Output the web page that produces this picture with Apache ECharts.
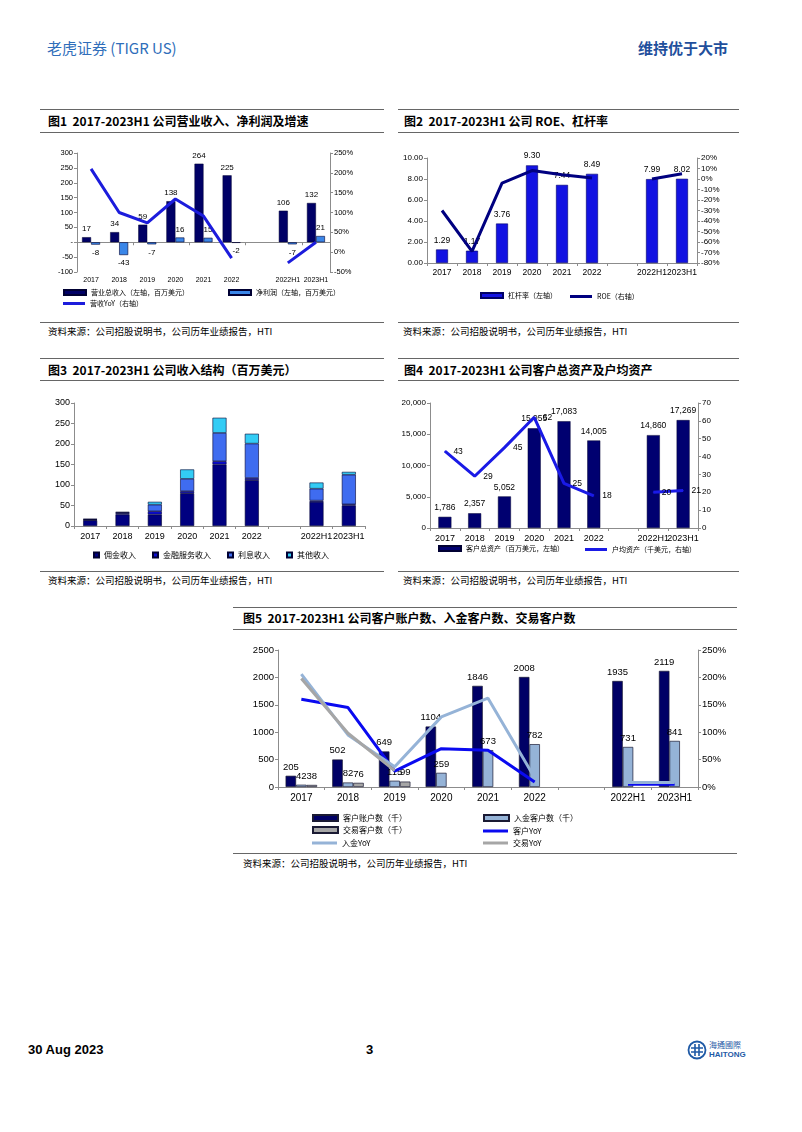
<!DOCTYPE html>
<html><head><meta charset="utf-8">
<script src="https://cdn.jsdelivr.net/npm/echarts@6/dist/echarts.min.js"></script>
<style>
body{margin:0;background:#fff;width:802px;height:1132px;position:relative;overflow:hidden;font-family:'Liberation Sans','Noto Sans CJK SC',sans-serif;}
.hl{position:absolute;height:0;border-top:1px solid #666;}
.title{position:absolute;font-family:'Noto Sans CJK SC',sans-serif;font-weight:bold;font-size:12px;line-height:14px;color:#000;white-space:nowrap}
.src{position:absolute;font-family:'Noto Sans CJK SC',sans-serif;font-size:9.5px;line-height:12px;color:#000;white-space:nowrap}
.ch{position:absolute;}
</style></head>
<body>
<div style="position:absolute;left:47px;top:38px;font-family:'Noto Sans CJK SC',sans-serif;font-size:15px;line-height:20px;color:#2f6eba;white-space:nowrap">老虎证券 (TIGR US)</div>
<div style="position:absolute;left:638px;top:38px;font-family:'Noto Sans CJK SC',sans-serif;font-weight:bold;font-size:15px;line-height:20px;color:#1f4f9c;white-space:nowrap">维持优于大市</div>

<div class="hl" style="left:40px;width:344px;top:109px"></div>
<div class="hl" style="left:40px;width:344px;top:132px"></div>
<div class="hl" style="left:40px;width:344px;top:322px"></div>
<div class="title" style="left:48px;top:114px">图1&nbsp; 2017-2023H1 公司营业收入、净利润及增速</div>
<div class="src" style="left:48px;top:325px">资料来源：公司招股说明书，公司历年业绩报告，HTI</div>

<div class="hl" style="left:398px;width:341px;top:109px"></div>
<div class="hl" style="left:398px;width:341px;top:132px"></div>
<div class="hl" style="left:398px;width:341px;top:322px"></div>
<div class="title" style="left:404px;top:114px">图2&nbsp; 2017-2023H1 公司 ROE、杠杆率</div>
<div class="src" style="left:403px;top:325px">资料来源：公司招股说明书，公司历年业绩报告，HTI</div>

<div class="hl" style="left:40px;width:344px;top:358px"></div>
<div class="hl" style="left:40px;width:344px;top:380px"></div>
<div class="hl" style="left:40px;width:344px;top:571px"></div>
<div class="title" style="left:48px;top:363px">图3&nbsp; 2017-2023H1 公司收入结构（百万美元）</div>
<div class="src" style="left:48px;top:574px">资料来源：公司招股说明书，公司历年业绩报告，HTI</div>

<div class="hl" style="left:398px;width:341px;top:358px"></div>
<div class="hl" style="left:398px;width:341px;top:380px"></div>
<div class="hl" style="left:398px;width:341px;top:571px"></div>
<div class="title" style="left:404px;top:363px">图4&nbsp; 2017-2023H1 公司客户总资产及户均资产</div>
<div class="src" style="left:403px;top:574px">资料来源：公司招股说明书，公司历年业绩报告，HTI</div>

<div class="hl" style="left:233px;width:504px;top:607px"></div>
<div class="hl" style="left:233px;width:504px;top:629px"></div>
<div class="hl" style="left:233px;width:504px;top:853px"></div>
<div class="title" style="left:243px;top:611px">图5&nbsp; 2017-2023H1 公司客户账户数、入金客户数、交易客户数</div>
<div class="src" style="left:243px;top:857px">资料来源：公司招股说明书，公司历年业绩报告，HTI</div>

<div id="c1" class="ch" style="left:40px;top:135px;width:345px;height:185px"></div>
<div id="c2" class="ch" style="left:395px;top:135px;width:345px;height:185px"></div>
<div id="c3" class="ch" style="left:40px;top:390px;width:345px;height:178px"></div>
<div id="c4" class="ch" style="left:395px;top:390px;width:345px;height:178px"></div>
<div id="c5" class="ch" style="left:233px;top:635px;width:505px;height:215px"></div>

<div style="position:absolute;left:28px;top:1042px;font-family:'Liberation Sans',sans-serif;font-weight:bold;font-size:13px;line-height:16px;color:#000">30 Aug 2023</div>
<div style="position:absolute;left:366px;top:1042px;font-family:'Liberation Sans',sans-serif;font-weight:bold;font-size:13px;line-height:16px;color:#000">3</div>
<svg style="position:absolute;left:687px;top:1040px" width="20" height="20" viewBox="0 0 20 20">
  <circle cx="10" cy="10" r="8.5" fill="none" stroke="#1f5aa6" stroke-width="1.8"/>
  <path d="M4 8 H16 M4 12 H16 M8 4 V16 M12 4 V16" stroke="#1f5aa6" stroke-width="1.6" fill="none"/>
</svg>
<div style="position:absolute;left:709px;top:1040px;font-family:'Noto Sans CJK TC',sans-serif;font-size:8px;line-height:9px;color:#1f5aa6;white-space:nowrap">海通國際</div>
<div style="position:absolute;left:709px;top:1050px;font-family:'Liberation Sans',sans-serif;font-weight:bold;font-size:8px;line-height:9px;color:#1f5aa6;white-space:nowrap">HAITONG</div>

<script>
// ---------- DATA ----------
const categories = ['2017','2018','2019','2020','2021','2022','','2022H1','2023H1'];
// Fig 1
const revenue = [17, 34, 59, 138, 264, 225, null, 106, 132];
const netProfit = [-8, -43, -7, 16, 15, -2, null, -7, 21];
const revenueYoY = [210, 100, 74, 134, 91, -15, null, -27, 25];
// Fig 2
const leverage = [1.29, 1.17, 3.76, 9.30, 7.44, 8.49, null, 7.99, 8.02];
const roe = [-30, -69, -4, 8, 4, 1, null, 0, 5];
// Fig 3
const commission = [14, 28, 28, 80, 150, 112, null, 59, 50];
const finService = [1, 3, 8, 5, 8, 5, null, 3, 3];
const interest = [1.5, 2, 16, 30, 69, 84, null, 29, 72];
const otherIncome = [0.5, 1, 7, 23, 37, 24, null, 15, 7];
// Fig 4
const clientAssets = [1786, 2357, 5052, 15955, 17083, 14005, null, 14860, 17269];
const assetPerAccount = [43, 29, 45, 62, 25, 18, null, 20, 21];
// Fig 5
const accounts = [205, 502, 649, 1104, 1846, 2008, null, 1935, 2119];
const funded = [42, 82, 115, 259, 673, 782, null, 731, 841];
const trading = [38, 76, 99, null, null, null, null, null, null];
const accountsYoY = [160, 145, 29, 70, 67, 9, null, 5, 5];
const fundedYoY = [206, 95, 37, 128, 162, 17, null, 8, 8];
const tradingYoY = [198, 98, 30, null, null, null, null, null, null];

// ---------- HELPERS ----------
const LAT = "'Liberation Sans','Noto Sans CJK SC',sans-serif";
const CJK = "'Noto Sans CJK SC',sans-serif";
const AX = '#8c8c8c';
function lg(name, left, top, fs, icon, lineColor) {
  const o = {data:[name], left:left, top:top, itemWidth:22, itemHeight:5, itemGap:0, padding:0,
    selectedMode:false, textStyle:{fontSize:fs, color:'#000', fontFamily:CJK}};
  if (icon) o.icon = icon;
  if (lineColor) { o.icon = 'rect'; o.itemHeight = 3; o.itemStyle = {color: lineColor, borderWidth: 0}; }
  return o;
}
function valAxis(min, max, interval, fs, fmt, pos) {
  return {type:'value', min:min, max:max, interval:interval, position:pos||'left',
    axisLine:{show:true, lineStyle:{color:AX, width:1}},
    axisTick:{show:true, length:3, lineStyle:{color:AX}},
    splitLine:{show:false},
    axisLabel:{fontSize:fs, color:'#000', fontFamily:LAT, margin:4, formatter:fmt || (v => String(v))}};
}
function catAxis(fs, margin) {
  return {type:'category', data:categories, position:'bottom',
    axisLine:{show:true, onZero:false, lineStyle:{color:AX}},
    axisTick:{show:true, length:3, lineStyle:{color:AX}},
    axisLabel:{interval:0, fontSize:fs, color:'#000', fontFamily:LAT, margin:margin}};
}
function signedLabels(arr) {
  return arr.map(v => v == null ? null : {value:v, label:{position: v < 0 ? 'bottom' : 'top'}});
}
const pct = v => v + '%';
const thousands = v => v.toLocaleString('en-US');

// ---------- FIG 1 ----------
const c1 = echarts.init(document.getElementById('c1'));
c1.setOption({
  animation:false, textStyle:{fontFamily:LAT},
  grid:{left:37, top:18, width:253, height:119},
  xAxis:[
    Object.assign(catAxis(7, 5), {axisLine:{show:false, onZero:false}, axisTick:{show:false}}),
    {type:'category', data:categories, position:'bottom',
     axisLine:{show:true, onZero:true, lineStyle:{color:AX}},
     axisTick:{show:true, length:3, lineStyle:{color:AX}}, axisLabel:{show:false}}
  ],
  yAxis:[
    valAxis(-100, 300, 50, 7.5, v => v === 0 ? '-' : String(v)),
    valAxis(-50, 250, 50, 7.5, pct, 'right')
  ],
  legend:[
    lg('营业总收入（左轴，百万美元）', 23, 154, 7, 'rect'),
    lg('净利润（左轴，百万美元）', 188, 154, 7, 'rect'),
    lg('营收YoY（右轴）', 23, 165, 7, null, '#1c1cdc')
  ],
  series:[
    {name:'营业总收入（左轴，百万美元）', type:'bar', data:revenue, barWidth:9, barGap:'0%',
     itemStyle:{color:'#000066', borderColor:'#000033', borderWidth:0.5},
     label:{show:true, position:'top', fontSize:8, color:'#000', distance:4}},
    {name:'净利润（左轴，百万美元）', type:'bar', data:signedLabels(netProfit), barWidth:9,
     itemStyle:{color:'#3a86e8', borderColor:'#000033', borderWidth:0.6},
     label:{show:true, fontSize:8, color:'#000', distance:4}},
    {name:'营收YoY（右轴）', type:'line', yAxisIndex:1, data:revenueYoY, symbol:'none',
     lineStyle:{color:'#1c1cdc', width:3}, itemStyle:{color:'#1c1cdc'}}
  ]
});

// ---------- FIG 2 ----------
const c2 = echarts.init(document.getElementById('c2'));
c2.setOption({
  animation:false, textStyle:{fontFamily:LAT},
  grid:{left:32, top:23, width:270, height:105},
  xAxis:[catAxis(8.5, 5)],
  yAxis:[
    valAxis(0, 10, 2, 8, v => v.toFixed(2)),
    valAxis(-80, 20, 10, 8, pct, 'right')
  ],
  legend:[
    lg('杠杆率（左轴）', 85, 157, 7, 'rect'),
    lg('ROE（右轴）', 175, 158, 7, null, '#000080')
  ],
  series:[
    {name:'杠杆率（左轴）', type:'bar', data:leverage, barWidth:12,
     itemStyle:{color:'#1212e2', borderColor:'#000066', borderWidth:0.6},
     label:{show:true, position:'top', fontSize:8.5, color:'#000', distance:5, formatter:p => p.value.toFixed(2)}},
    {name:'ROE（右轴）', type:'line', yAxisIndex:1, data:roe, symbol:'none',
     lineStyle:{color:'#000080', width:3}, itemStyle:{color:'#000080'}}
  ]
});

// ---------- FIG 3 ----------
const c3 = echarts.init(document.getElementById('c3'));
const stackBar = (name, data, color) => ({name:name, type:'bar', stack:'rev', data:data, barWidth:14,
  itemStyle:{color:color, borderColor:'#000033', borderWidth:0.6}});
c3.setOption({
  animation:false, textStyle:{fontFamily:LAT},
  grid:{left:34, top:13, width:291, height:123},
  xAxis:[catAxis(9, 6)],
  yAxis:[valAxis(0, 300, 50, 9, null)],
  legend:[{data:['佣金收入','金融服务收入','利息收入','其他收入'], left:53, top:161, icon:'rect',
    itemWidth:5, itemHeight:5, itemGap:16, padding:0, selectedMode:false,
    textStyle:{fontSize:8, color:'#000', fontFamily:CJK}}],
  series:[
    stackBar('佣金收入', commission, '#000080'),
    stackBar('金融服务收入', finService, '#0c0cd0'),
    stackBar('利息收入', interest, '#3f6cf0'),
    stackBar('其他收入', otherIncome, '#33ccf5')
  ]
});

// ---------- FIG 4 ----------
const c4 = echarts.init(document.getElementById('c4'));
c4.setOption({
  animation:false, textStyle:{fontFamily:LAT},
  grid:{left:35, top:13, width:268, height:125},
  xAxis:[catAxis(9, 6)],
  yAxis:[
    valAxis(0, 20000, 5000, 8, thousands),
    valAxis(0, 70, 10, 8, null, 'right')
  ],
  legend:[
    lg('客户总资产（百万美元，左轴）', 43, 155, 7, 'rect'),
    lg('户均资产（千美元，右轴）', 190, 156, 7, null, '#1a1ae6')
  ],
  series:[
    {name:'客户总资产（百万美元，左轴）', type:'bar', data:clientAssets, barWidth:13,
     itemStyle:{color:'#000070', borderColor:'#000033', borderWidth:0.5},
     label:{show:true, position:'top', fontSize:8.5, color:'#000', distance:5, formatter:p => thousands(p.value)}},
    {name:'户均资产（千美元，右轴）', type:'line', yAxisIndex:1, data:assetPerAccount,
     symbol:'circle', symbolSize:1, showSymbol:true,
     lineStyle:{color:'#1a1ae6', width:3}, itemStyle:{color:'#1a1ae6'},
     label:{show:true, position:'right', fontSize:8.5, color:'#000', distance:8}}
  ]
});

// ---------- FIG 5 ----------
const c5 = echarts.init(document.getElementById('c5'));
const bar5 = (name, data, color) => ({name:name, type:'bar', data:data, barWidth:10.5, barGap:'0%',
  itemStyle:{color:color, borderColor:'#1a1a33', borderWidth:0.7},
  label:{show:true, position:'top', fontSize:9.5, color:'#000', distance:4}});
const line5 = (name, data, color) => ({name:name, type:'line', yAxisIndex:1, data:data, symbol:'none',
  lineStyle:{color:color, width:3}, itemStyle:{color:color}});
const big = o => Object.assign(o, {itemWidth:25});
c5.setOption({
  animation:false, textStyle:{fontFamily:LAT},
  grid:{left:45, top:15, width:420, height:137},
  xAxis:[catAxis(10, 6)],
  yAxis:[
    valAxis(0, 2500, 500, 9.5, null),
    valAxis(0, 250, 50, 9.5, pct, 'right')
  ],
  legend:[
    Object.assign(lg('客户账户数（千）', 79, 179, 8, 'rect'), {itemWidth:25, itemHeight:6}),
    Object.assign(lg('入金客户数（千）', 250, 179, 8, 'rect'), {itemWidth:25, itemHeight:6}),
    Object.assign(lg('交易客户数（千）', 79, 191, 8, 'rect'), {itemWidth:25, itemHeight:6}),
    big(lg('客户YoY', 250, 192, 8, null, '#0a0af0')),
    big(lg('入金YoY', 79, 204, 8, null, '#95b3d7')),
    big(lg('交易YoY', 250, 204, 8, null, '#a6a6a6'))
  ],
  series:[
    bar5('客户账户数（千）', accounts, '#000066'),
    bar5('入金客户数（千）', funded, '#95b3d7'),
    bar5('交易客户数（千）', trading, '#a6a6a6'),
    line5('客户YoY', accountsYoY, '#0a0af0'),
    line5('入金YoY', fundedYoY, '#95b3d7'),
    line5('交易YoY', tradingYoY, '#a6a6a6')
  ]
});
</script>
</body></html>
